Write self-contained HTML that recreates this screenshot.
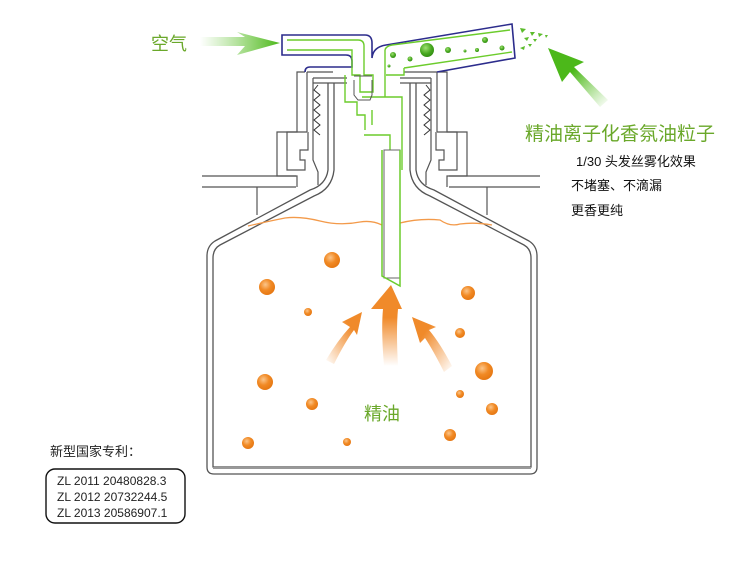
<!DOCTYPE html>
<html><head><meta charset="utf-8"><style>
html,body{margin:0;padding:0;background:#fff;}
svg{display:block}
text{font-family:"Liberation Sans","Noto Sans CJK SC",sans-serif}
</style></head><body>
<svg width="750" height="576" viewBox="0 0 750 576" xmlns="http://www.w3.org/2000/svg">
<defs>
<radialGradient id="ball" cx="0.4" cy="0.35" r="0.7">
<stop offset="0" stop-color="#fbc58a"/><stop offset="0.5" stop-color="#f18a25"/><stop offset="1" stop-color="#e47510"/></radialGradient>
<radialGradient id="gball" cx="0.4" cy="0.35" r="0.7">
<stop offset="0" stop-color="#9ee070"/><stop offset="0.6" stop-color="#48a820"/><stop offset="1" stop-color="#2f8a10"/></radialGradient>
<linearGradient id="ga" x1="0" y1="0" x2="1" y2="0"><stop offset="0" stop-color="#6cc83c" stop-opacity="0"/><stop offset="1" stop-color="#4cb81a"/></linearGradient>
<linearGradient id="gb" x1="1" y1="1" x2="0" y2="0"><stop offset="0" stop-color="#6cc83c" stop-opacity="0"/><stop offset="0.6" stop-color="#4cb81a"/></linearGradient>
<linearGradient id="oa" x1="0" y1="1" x2="0" y2="0"><stop offset="0" stop-color="#f08a2a" stop-opacity="0"/><stop offset="0.6" stop-color="#f08a2a"/></linearGradient>
<linearGradient id="ol" x1="0" y1="1" x2="1" y2="0"><stop offset="0" stop-color="#f08a2a" stop-opacity="0"/><stop offset="0.7" stop-color="#f08a2a"/></linearGradient>
<linearGradient id="or" x1="1" y1="1" x2="0" y2="0"><stop offset="0" stop-color="#f08a2a" stop-opacity="0"/><stop offset="0.7" stop-color="#f08a2a"/></linearGradient>
</defs>

<g fill="none" stroke="#555" stroke-width="1.2">
<line x1="202" y1="176" x2="296" y2="176"/><line x1="202" y1="187" x2="296" y2="187"/>
<line x1="449" y1="176" x2="540" y2="176"/><line x1="449" y1="187" x2="540" y2="187"/>
<line x1="257" y1="187" x2="257" y2="215"/><line x1="487" y1="187" x2="487" y2="215"/>
<path d="M305 72 H297 V132 H277 V176 H297 V187"/>
<path d="M307 72 H333 M307 72 V132 M307 132 H287 V170 H305 V160 H300 V150 H308 V132"/>
<path d="M313 78 V160 L318 172 V185"/>
<path d="M313 78 H347 M313 83 H347"/>
<path d="M438 72 H447 V132 H467 V176 H447 V187"/>
<path d="M437 72 H404 M437 72 V132 M437 132 H457 V170 H439 V160 H444 V150 H436 V132"/>
<path d="M431 78 V160 L426 172 V185"/>
<path d="M431 78 H400 M431 83 H400"/>
</g>
<g fill="none" stroke="#333" stroke-width="1">
<path d="M318 85 L314 90 L320 95 L314 100 L320 105 L314 110 L320 115 L314 120 L320 125 L314 130 L320 135"/>
<path d="M426 85 L430 90 L424 95 L430 100 L424 105 L430 110 L424 115 L430 120 L424 125 L430 130 L424 135"/>
</g>
<g fill="none" stroke="#555" stroke-width="1.3">
<path d="M328 83 V170 Q326 185 310 190 L215 241 Q207 246 207 256 V467 Q207 474 214 474 H530 Q537 474 537 467 V256 Q537 246 529 241 L434 190 Q418 185 416 170 V83"/>
<path d="M334 83 V170 Q332 189 314 196 L220 245 Q213 249 213 258 V467 H531 V258 Q531 249 524 245 L430 196 Q412 189 410 170 V83"/>
</g>
<line x1="213" y1="468" x2="531" y2="468" stroke="#999" stroke-width="2"/>
<path d="M248 226 Q265 222 285 218 Q300 216 320 221 Q340 226 360 222 Q372 220 382 225 M400 223 Q420 218 440 220 Q450 227 460 224 Q475 222 492 225" fill="none" stroke="#f39a4a" stroke-width="1.3"/>

<!-- tube assembly -->
<path d="M305 72 Q305 67 310 67 H352 V61 Q352 55 346 55 H282 V35 H365 Q372 35 372 43 V58 Q373 47 386 45 L512 24 L515 58 L437 72" fill="none" stroke="#2c2c8c" stroke-width="1.6"/>
<g fill="none" stroke="#6ccc2c" stroke-width="1.4">
<path d="M287 40 H358 Q364 40 364 46 V75 H373 V92 H360 V75 H352 V50 H287"/>
<path d="M385 50 Q386 46 392 45 L510 30 M404 68 L512 52 M404 68 V75 H386"/>
<path d="M385 50 V97 H402 V170 M385 97 H362"/>
<path d="M345 75 V102 H357 V115 H365 V130 M372 110 V125"/>
<path d="M364 135 H390 V150"/>
</g>
<rect x="384" y="150" width="16" height="128" fill="#fff" stroke="#666" stroke-width="1"/>
<path d="M382 150 V276 L400 286 V150" fill="none" stroke="#6ccc2c" stroke-width="1.5"/>
<path d="M354 76 H372 M354 80 V95 L358 100 H370 L372 95 V80" fill="none" stroke="#555" stroke-width="1"/>
<circle cx="427" cy="50" r="7" fill="url(#gball)"/>
<circle cx="393" cy="55" r="3" fill="url(#gball)"/>
<circle cx="410" cy="59" r="2.5" fill="url(#gball)"/>
<circle cx="448" cy="50" r="3" fill="url(#gball)"/>
<circle cx="465" cy="51" r="1.5" fill="url(#gball)"/>
<circle cx="485" cy="40" r="3" fill="url(#gball)"/>
<circle cx="477" cy="50" r="2" fill="url(#gball)"/>
<circle cx="502" cy="48" r="2.5" fill="url(#gball)"/>
<circle cx="389" cy="66" r="1.5" fill="url(#gball)"/>
<g fill="#5cbc2c">
<path d="M520 28 l6 1 l-4 4z"/><path d="M530 32 l5 0 l-3 4z"/><path d="M538 33 l5 1 l-4 3z"/><path d="M545 35 l3 0 l-2 3z"/>
<path d="M524 38 l5 -1 l-2 4z"/><path d="M533 39 l4 0 l-2 3z"/><path d="M520 48 l5 -2 l-1 4z"/><path d="M528 44 l4 0 l-2 3z"/>
</g>
<path d="M200 37 H245 L237 32 L280 43 L237 55 L245 46 H200 Z" fill="url(#ga)"/>
<path d="M600 107 L570 72 L562 82 L548 48 L584 62 L574 67 L608 100 Z" fill="url(#gb)"/>

<path d="M384 366 Q381 330 383 309 H371 L391 285 L402 309 H398 Q396 330 398 366 Z" fill="url(#oa)"/>
<path d="M326 360 Q338 340 350 327 L342 322 L362 312 L357 335 L354 330 Q345 342 334 364 Z" fill="url(#ol)"/>
<path d="M444 372 Q433 350 425 338 L420 343 L412 317 L436 327 L429 330 Q440 343 452 366 Z" fill="url(#or)"/>

<g fill="url(#ball)">
<circle cx="332" cy="260" r="8"/><circle cx="267" cy="287" r="8"/><circle cx="308" cy="312" r="4"/>
<circle cx="468" cy="293" r="7"/><circle cx="460" cy="333" r="5"/><circle cx="484" cy="371" r="9"/>
<circle cx="265" cy="382" r="8"/><circle cx="312" cy="404" r="6"/><circle cx="460" cy="394" r="4"/>
<circle cx="492" cy="409" r="6"/><circle cx="248" cy="443" r="6"/><circle cx="347" cy="442" r="4"/>
<circle cx="450" cy="435" r="6"/>
</g>

<text x="151" y="50" font-size="18" fill="#6aa82a">空气</text>
<text x="525" y="140" font-size="19" fill="#6aa82a">精油离子化香氛油粒子</text>
<text x="576" y="166" font-size="13" fill="#111">1/30 头发丝雾化效果</text>
<text x="571" y="190" font-size="13" fill="#111">不堵塞、不滴漏</text>
<text x="571" y="215" font-size="13" fill="#111">更香更纯</text>
<text x="364" y="420" font-size="18" fill="#6aa82a">精油</text>
<text x="50" y="456" font-size="13" fill="#222">新型国家专利：</text>
<rect x="46" y="469" width="139" height="54" rx="9" fill="none" stroke="#111" stroke-width="1.4"/>
<text x="57" y="485" font-size="12" fill="#222">ZL 2011 20480828.3</text>
<text x="57" y="501" font-size="12" fill="#222">ZL 2012 20732244.5</text>
<text x="57" y="517" font-size="12" fill="#222">ZL 2013 20586907.1</text>
</svg>
</body></html>
